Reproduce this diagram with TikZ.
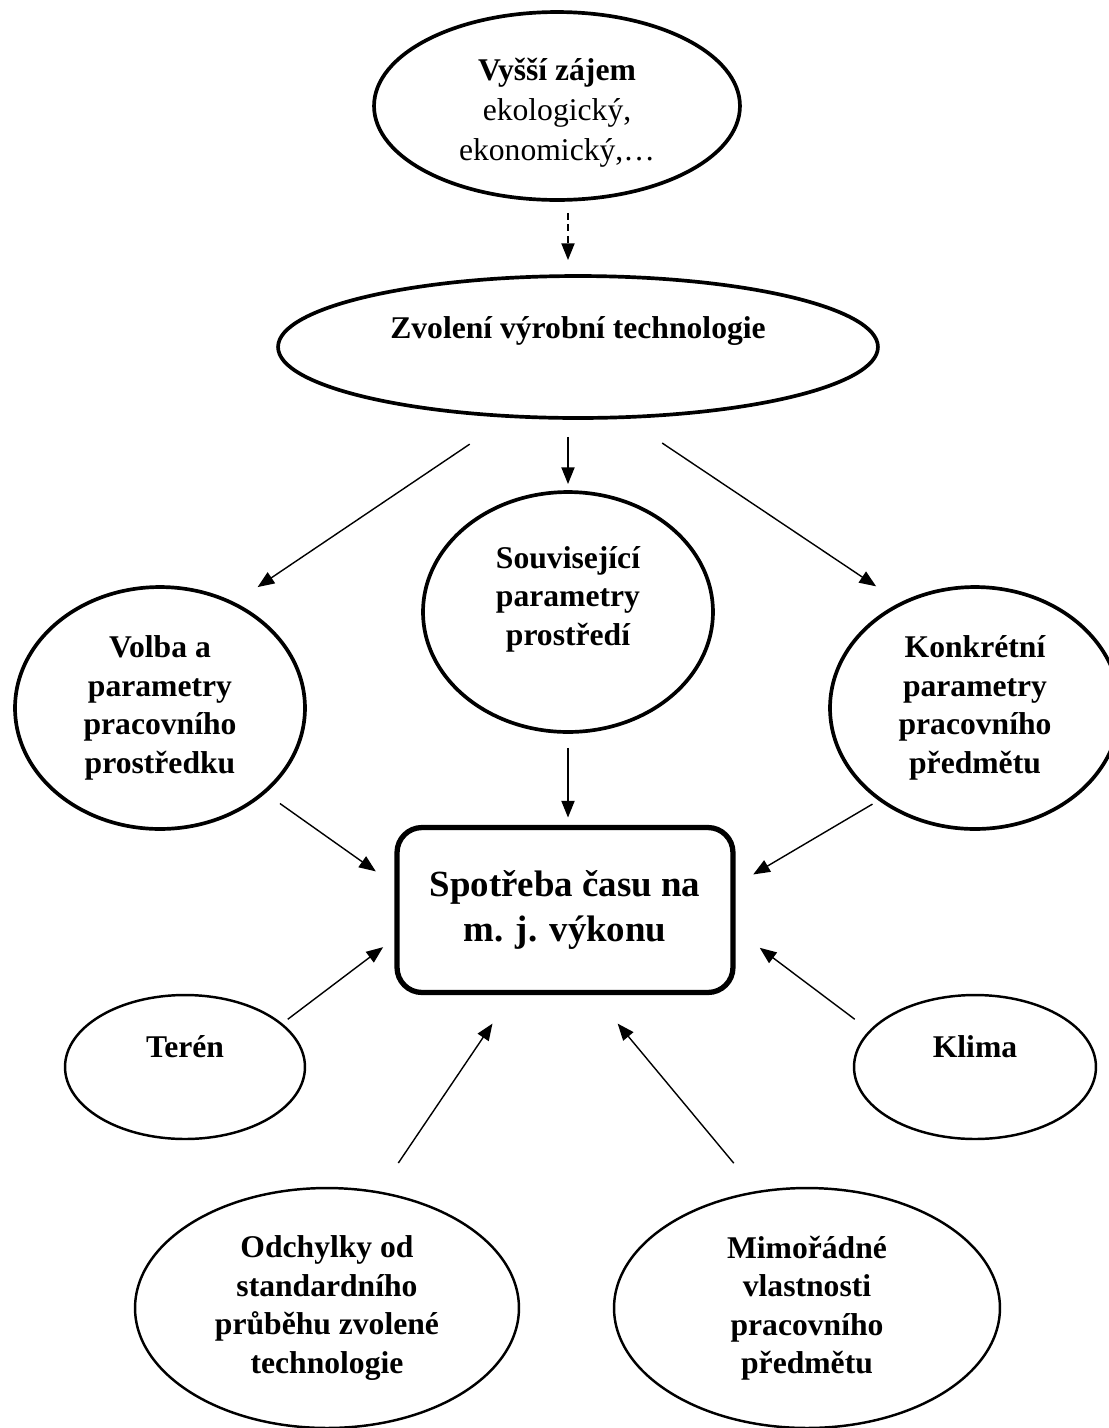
\documentclass[tikz,border=0pt]{standalone}
\usepackage{fontspec}
\setmainfont{Liberation Serif}
\usetikzlibrary{calc,arrows.meta,positioning,shapes.geometric}

\begin{document}
\begin{tikzpicture}[x=0.02cm, y=-0.02cm, >={Triangle[length=9.5pt,width=7.5pt]},
	font=\fontsize{18}{21.9}\selectfont\bfseries,
	every node/.style={align=center, inner sep=0pt, outer sep=0pt},
	bigel/.style={draw, ellipse, line width=2.1pt},
	smallel/.style={draw, ellipse, line width=1.4pt},
	arr/.style={->, line width=0.8pt}]
			\useasboundingbox (0,0) rectangle (1109,1428);
			% Nodes
			\node[bigel, minimum width=7.32cm, minimum height=3.76cm,
				label={[yshift=-0.14cm, font=\fontsize{18}{22.8}\selectfont\bfseries]center:{Vyšší zájem\\\mdseries ekologický,\\\mdseries ekonomický,…}}] (vyssi) at (557,106) {};
			\node[bigel, minimum width=12cm, minimum height=2.84cm,
				label={[yshift=0.33cm]center:Zvolení výrobní technologie}] (zvoleni) at (578,347) {};
			\node[bigel, minimum width=5.8cm, minimum height=4.8cm,
				label={[yshift=0.26cm]center:{Související\\parametry\\prostředí}}] (souvis) at (568,612) {};
			\node[bigel, minimum width=5.8cm, minimum height=4.84cm] (volba) at (160,708) {Volba a\\parametry\\pracovního\\prostředku};
			\node[bigel, minimum width=5.8cm, minimum height=4.84cm] (konkret) at (975,708) {Konkrétní\\parametry\\pracovního\\předmětu};
			
			\node[draw, rectangle, rounded corners=0.5cm, line width=3pt, minimum width=6.72cm, minimum height=3.3cm,
				font=\fontsize{21}{25.6}\selectfont\bfseries] (spotreba) at (565,910) {Spotřeba času na\\m. j. výkonu};
			
			\node[smallel, minimum width=4.8cm, minimum height=2.88cm,
				label={[yshift=0.4cm]center:Terén}] (teren) at (185,1067) {};
			\node[smallel, minimum width=4.84cm, minimum height=2.88cm,
				label={[yshift=0.4cm]center:Klima}] (klima) at (975,1067) {};
			\node[smallel, minimum width=7.68cm, minimum height=4.8cm] (odchylky) at (327,1308) {Odchylky od\\standardního\\průběhu zvolené\\technologie};
			\node[smallel, minimum width=7.72cm, minimum height=4.8cm] (mimoradne) at (807,1308) {Mimořádné\\vlastnosti\\pracovního\\předmětu};
			
			% Arrows
			\draw[arr, dash pattern=on 4pt off 2.5pt, shorten <=0.26cm, shorten >=0.32cm] (souvis.center |- vyssi.south) -- (souvis.center |- zvoleni.north);
			\draw[arr, shorten <=1cm, shorten >=0.59cm] (zvoleni.226) -- (volba.55);
			\draw[arr, shorten <=0.38cm, shorten >=0.16cm] (souvis.center |- zvoleni.south) -- (souvis.north);
			\draw[arr, shorten <=0.93cm, shorten >=0.62cm] (zvoleni.303) -- (konkret.125);
			\draw[arr, shorten <=0.32cm, shorten >=0.2cm] (souvis.south) -- (souvis.south |- spotreba.north);
			\draw[arr, shorten <=0.39cm, shorten >=0.52cm] (volba.321) -- (spotreba.172);
			\draw[arr, shorten <=0.18cm, shorten >=0.47cm] (konkret.224) -- (spotreba.8);
			\draw[arr, shorten <=0.16cm, shorten >=0.35cm] (teren.24) -- (spotreba.189);
			\draw[arr, shorten <=0.39cm, shorten >=0.67cm] (klima.161) -- (spotreba.354);
			\draw[arr, shorten <=0.71cm, shorten >=0.75cm] (odchylky.66) -- (spotreba.238);
			\draw[arr, shorten <=0.75cm, shorten >=0.81cm] (mimoradne.113) -- (spotreba.288);
\end{tikzpicture}
\end{document}
